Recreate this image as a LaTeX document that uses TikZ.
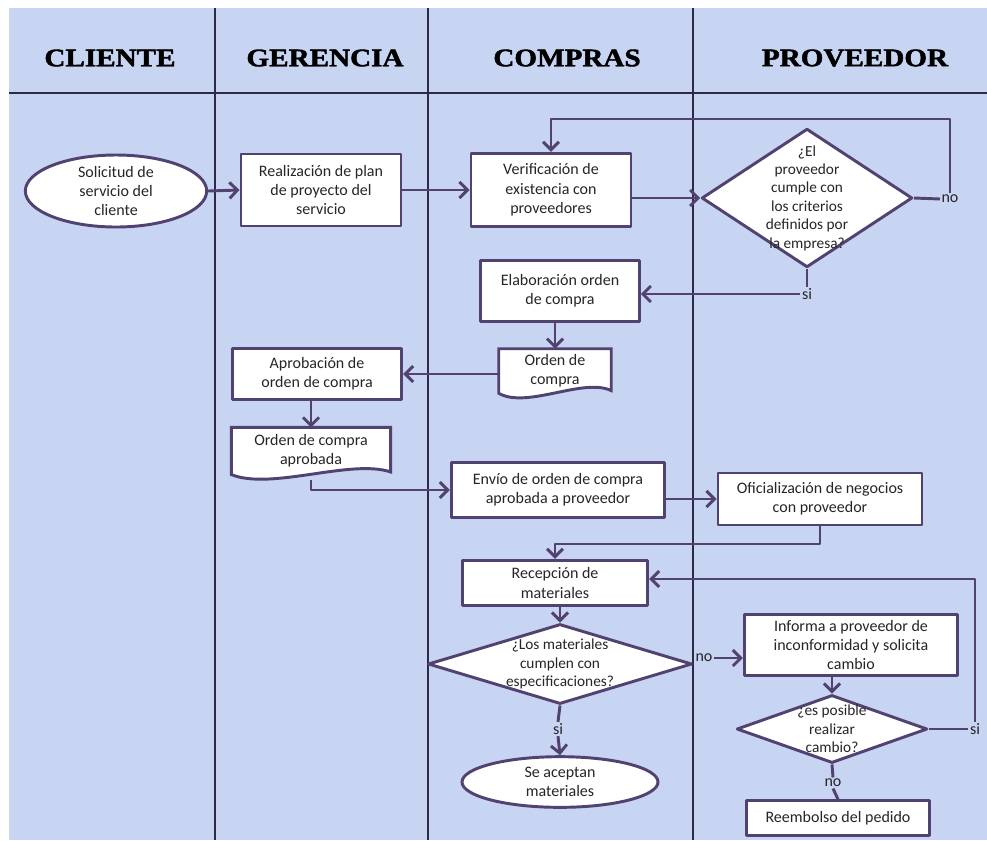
\documentclass[tikz,border=0pt]{standalone}
\usepackage{fontspec}
\setmainfont{Carlito}
\newfontfamily\headfont{Liberation Serif}[BoldFeatures={FakeBold=1.6}]
\usetikzlibrary{arrows.meta,shapes.geometric,calc,backgrounds}
\definecolor{lanebg}{RGB}{199,212,242}
\definecolor{laneline}{RGB}{45,42,72}
\definecolor{flowline}{RGB}{82,66,112}
\definecolor{boxtext}{RGB}{40,36,40}
\begin{document}
\begin{tikzpicture}[
        x=0.75pt, y=-0.75pt,
        line join=round,
        font=\fontsize{12}{14.5}\selectfont
    ]
    \tikzset{
        lane/.style = {draw=laneline, line width=1.5pt},
        lanehead/.style = {font=\headfont\bfseries\fontsize{19}{22}\selectfont, xscale=1.15, text=black},
        procbox/.style = {rectangle, draw=flowline, fill=white, line width=2.2pt, align=center, text=boxtext, inner sep=1pt},
        startend/.style = {ellipse, draw=flowline, fill=white, line width=2.2pt, align=center, text=boxtext, inner sep=0pt},
        decision/.style = {diamond, draw=flowline, fill=white, line width=2.2pt, inner sep=0pt},
        dtext/.style = {align=center, text=boxtext, font=\fontsize{11.5}{13.8}\selectfont, inner sep=0pt},
        doc/.style = {rectangle, align=center, text=boxtext, inner sep=1pt},
        docshape/.style = {draw=flowline, fill=white, line width=2.2pt},
        flow/.style = {draw=flowline, line width=2.2pt, -{Straight Barb[length=6pt,width=12pt]}},
        link/.style = {draw=flowline, line width=2.2pt},
        answer/.style = {text=boxtext, inner sep=1pt},
    }
    \useasboundingbox (0,0) rectangle (987,840);
    % lanes
    \draw[lane] (215,8) -- (215,840);
    \draw[lane] (428,8) -- (428,840);
    \draw[lane] (693,8) -- (693,840);
    \draw[lane] (9,93) -- (987,93);
    \node[lanehead] (hcliente) at (110,58) {CLIENTE};
    \node[lanehead] (hgerencia) at (325,58) {GERENCIA};
    \node[lanehead] (hcompras) at (567,58) {COMPRAS};
    \node[lanehead] (hproveedor) at (855,58) {PROVEEDOR};

    % first row
    \node[startend, minimum width=136pt, minimum height=54pt] (solicitud) at (116,191) {Solicitud de\\servicio del\\cliente};
    \node[procbox, minimum width=120pt, minimum height=54pt] (plan) at (321,190) {Realización de plan\\de proyecto del\\servicio};
    \node[procbox, minimum width=120pt, minimum height=55pt] (verif) at (551,190) {Verificación de\\existencia con\\proveedores};
    \node[decision, minimum width=158pt, minimum height=104pt,
        label={[dtext]center:{¿El\\proveedor\\cumple con\\los criterios\\definidos por\\la empresa?}}] (criterios) at (807,198) {};
    \node[answer] (no1) at (950,199) {no};
    \node[answer] (si1) at (807,294) {si};

    % orden de compra
    \node[procbox, minimum width=119pt, minimum height=46pt] (elab) at (560,291) {Elaboración orden\\de compra};
    \node[doc, minimum width=84pt, minimum height=33pt] (orden) at (555,371) {Orden de\\compra};
    \node[procbox, minimum width=127pt, minimum height=38pt] (aprob) at (317,374) {Aprobación de\\orden de compra};
    \node[doc, minimum width=119pt, minimum height=35pt] (ordap) at (311,451) {Orden de compra\\aprobada};
    \node[procbox, minimum width=160pt, minimum height=41pt] (envio) at (558,490) {Envío de orden de compra\\aprobada a proveedor};
    \node[procbox, minimum width=153pt, minimum height=39pt] (ofic) at (820,499) {Oficialización de negocios\\con proveedor};

    % materiales
    \node[procbox, minimum width=139pt, minimum height=34pt] (recep) at (555,583) {Recepción de\\materiales};
    \node[decision, minimum width=198pt, minimum height=60pt,
        label={[dtext]center:{¿Los materiales\\cumplen con\\especificaciones?}}] (cumplen) at (560,664) {};
    \node[answer] (no2) at (704,658) {no};
    \node[answer] (si2) at (558,729) {si};
    \node[startend, minimum width=147pt, minimum height=38pt] (aceptan) at (560,782) {Se aceptan\\materiales};
    \node[procbox, minimum width=160pt, minimum height=46pt] (informa) at (851,645) {Informa a proveedor de\\inconformidad y solicita\\cambio};
    \node[decision, minimum width=143pt, minimum height=51pt,
        label={[dtext]center:{¿es posible\\realizar\\cambio?}}] (posible) at (832,729) {};
    \node[answer] (si3) at (975,729) {si};
    \node[answer] (no3) at (833,783) {no};
    \node[procbox, minimum width=137pt, minimum height=26pt] (reemb) at (838,818) {Reembolso del pedido};

    \coordinate (vtop) at (verif.north |- 0,119);
    \coordinate (rtop) at (recep.north |- 0,544);

    \begin{scope}[on background layer]
        \fill[lanebg] (9,8) rectangle (987,840);
        \path[docshape] (orden.north west) -- (orden.north east) -- ($(orden.south east)+(0,2pt)$)
            .. controls ($(orden.south)!0.5!(orden.south east)+(0,12pt)$) and ($(orden.south)!0.5!(orden.south west)+(0,-12pt)$) .. (orden.south west) -- cycle;
        \path[docshape] (ordap.north west) -- (ordap.north east) -- ($(ordap.south east)+(0,2pt)$)
            .. controls ($(ordap.south)!0.5!(ordap.south east)+(0,12pt)$) and ($(ordap.south)!0.5!(ordap.south west)+(0,-12pt)$) .. (ordap.south west) -- cycle;
    \end{scope}

    % connectors
    \draw[flow] (solicitud.east) -- (plan.west);
    \draw[flow] (plan.east) -- (verif.west);
    \draw[flow] (verif.east |- criterios.west) -- (criterios.west);
    \draw[link] (criterios.east) -- (no1.west);
    \draw[flow] (no1.north) |- (vtop) -- (verif.north);
    \draw[link] (criterios.south) -- (si1.north);
    \draw[flow] (si1.west) -- (si1.west -| elab.east);
    \draw[flow] (elab.south -| orden.north) -- (orden.north);
    \draw[flow] (orden.west |- aprob.east) -- (aprob.east);
    \draw[flow] (ordap.north |- aprob.south) -- (ordap.north);
    \draw[flow] ($(ordap.south)+(0,-4pt)$) |- (envio.west);
    \draw[flow] (envio.east |- ofic.west) -- (ofic.west);
    \draw[flow] (ofic.south) |- (rtop) -- (recep.north);
    \draw[flow] (recep.south -| cumplen.north) -- (cumplen.north);
    \draw[flow] (no2.east) -- (no2.east -| informa.west);
    \draw[link] (cumplen.south) -- (si2.north);
    \draw[flow] (si2.south) -- (aceptan.north);
    \draw[flow] (informa.south -| posible.north) -- (posible.north);
    \draw[link] (posible.east) -- (si3.west);
    \draw[flow] (si3.north) |- ($(recep.east)+(0,3pt)$);
    \draw[link] (posible.south) -- (no3.north);
    \draw[link] (no3.south) -- (reemb.north);
\end{tikzpicture}
\end{document}
